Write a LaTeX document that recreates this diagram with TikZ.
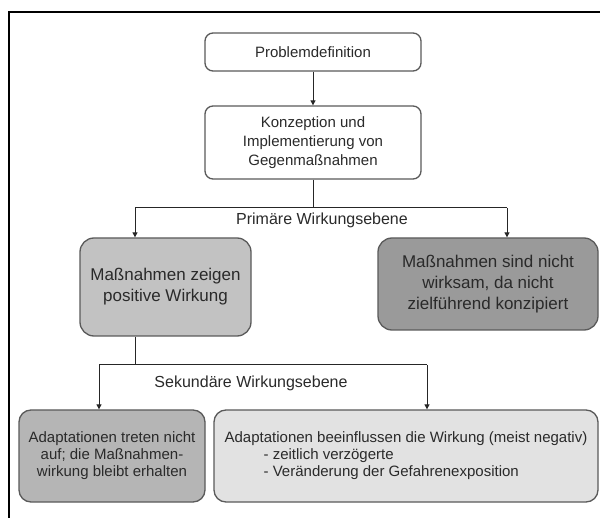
\documentclass[tikz,border=0pt]{standalone}
\usepackage{fontspec}
\setmainfont{Liberation Sans}
\usetikzlibrary{arrows.meta}
\definecolor{txt}{HTML}{2A2A2A}
\definecolor{bord}{HTML}{5A5A5A}
\definecolor{posfill}{HTML}{C2C2C2}
\definecolor{negfill}{HTML}{9A9A9A}
\definecolor{adafill}{HTML}{B5B5B5}
\definecolor{adbfill}{HTML}{E2E2E2}
\tikzset{
  box/.style={draw=bord, line width=1.3pt, text=txt, align=center, inner sep=0pt},
  topbox/.style={box, fill=white, rounded corners=8pt, font=\fontsize{15}{19}\selectfont},
  midbox/.style={box, rounded corners=14pt, font=\fontsize{17}{21}\selectfont},
  botbox/.style={box, rounded corners=12pt, font=\fontsize{15}{17}\selectfont},
  conn/.style={draw=black!85, line width=1pt},
  arr/.style={conn, -{Triangle[length=5pt,width=5pt]}},
  lbl/.style={text=txt, font=\fontsize{16}{19}\selectfont, inner sep=0pt}
}
\begin{document}
\begin{tikzpicture}[x=1pt,y=-1pt]
\useasboundingbox (0,0) rectangle (600,518);
\fill[white] (0,0) rectangle (600,518);
% frame (left and top)
\draw[black, line width=1.3pt] (9,518) -- (9,12) -- (600,12);

\node[topbox, minimum width=216pt, minimum height=38pt] (prob) at (313,52) {Problemdefinition};
\node[topbox, minimum width=216pt, minimum height=73pt] (konz) at (313,142.5) {Konzeption und\\Implementierung von\\Gegenmaßnahmen};

\node[midbox, fill=posfill, minimum width=171pt, minimum height=98pt] (pos) at (165.5,287) {Maßnahmen zeigen\\positive Wirkung};
\node[midbox, fill=negfill, minimum width=220pt, minimum height=92pt] (neg) at (488,284) {Maßnahmen sind nicht\\wirksam, da nicht\\zielführend konzipiert};

\node[botbox, fill=adafill, minimum width=186pt, minimum height=92pt] (ada) at (112,456) {Adaptationen treten nicht\\auf; die Maßnahmen-\\wirkung bleibt erhalten};
\node[botbox, fill=adbfill, minimum width=384pt, minimum height=92pt, align=left] (adb) at (406,456) {Adaptationen beeinflussen die Wirkung (meist negativ)\\\hspace*{39pt}- zeitlich verzögerte\\\hspace*{39pt}- Veränderung der Gefahrenexposition};

\node[lbl] (prim) at (322,220) {Primäre Wirkungsebene};
\node[lbl] (sek) at (251,383) {Sekundäre Wirkungsebene};

% connectors
\draw[arr] (prob.south) -- (konz.north);
\coordinate (hL) at (135,208);
\coordinate (hR) at (507,208);
\draw[conn] (konz.south) -- (konz.south |- hL);
\draw[conn] (hL) -- (hR);
\draw[arr] (hL) -- (hL |- pos.north);
\draw[arr] (hR) -- (hR |- neg.north);

\coordinate (sL) at (99,365);
\coordinate (sR) at (427,365);
\draw[conn] (pos.south -| hL) -- (sL -| hL);
\draw[conn] (sL) -- (sR);
\draw[arr] (sL) -- (sL |- ada.north);
\draw[arr] (sR) -- (sR |- adb.north);
\end{tikzpicture}
\end{document}
